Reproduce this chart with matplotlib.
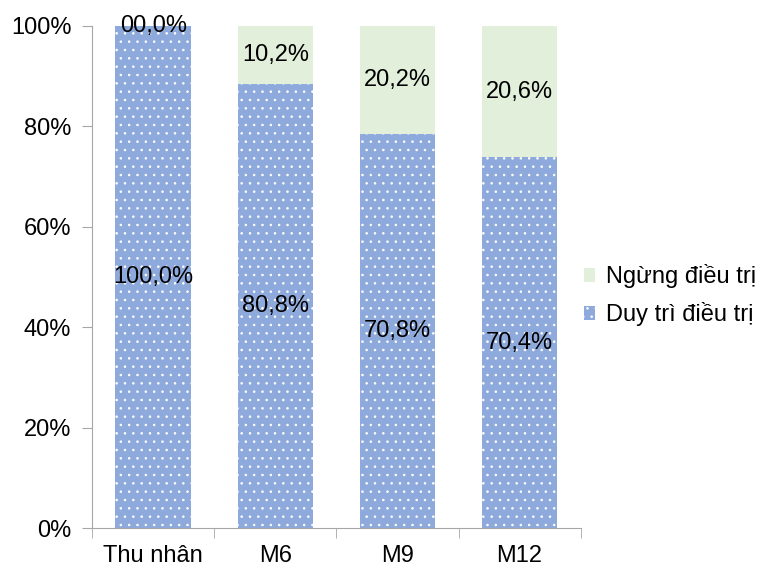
import matplotlib.pyplot as plt
from matplotlib.patches import Patch

plt.rcParams['font.family'] = ['Liberation Sans', 'DejaVu Sans']
plt.rcParams['hatch.linewidth'] = 0.6

categories = ['Thu nhân', 'M6', 'M9', 'M12']
duy_tri = [100.0, 88.4, 78.4, 73.8]          # bar heights (%)
ngung = [0.0, 11.6, 21.6, 26.2]
duy_tri_labels = ['100,0%', '80,8%', '70,8%', '70,4%']
ngung_labels = ['00,0%', '10,2%', '20,2%', '20,6%']

blue = '#8EA9DB'
green = '#E2EFDA'
fs = 17

fig = plt.figure(figsize=(7.62, 5.68), dpi=100)
ax = fig.add_axes([0.121, 0.0704, 0.641, 0.884])

x = range(len(categories))
b1 = ax.bar(x, duy_tri, width=0.62, color=blue, edgecolor='white', linewidth=0, hatch='..')
b2 = ax.bar(x, ngung, width=0.62, bottom=duy_tri, color=green, linewidth=0)

for i in x:
    ax.text(i, duy_tri[i] / 2, duy_tri_labels[i], ha='center', va='center', fontsize=fs)
    ax.text(i, duy_tri[i] + ngung[i] / 2, ngung_labels[i], ha='center', va='center', fontsize=fs)

ax.set_xlim(-0.5, len(categories) - 0.5)
ax.set_ylim(0, 100)
ax.set_yticks(range(0, 101, 20))
ax.set_yticklabels([f'{v}%' for v in range(0, 101, 20)], fontsize=fs)
ax.set_xticks(x)
ax.set_xticklabels(categories, fontsize=fs)
ax.tick_params(axis='x', length=0, pad=12)
ax.set_xticks([i + 0.5 for i in range(-1, len(categories))], minor=True)
ax.tick_params(axis='x', which='minor', length=7, color='#A6A6A6')
ax.tick_params(axis='y', length=7, color='#A6A6A6', pad=8)
for s in ['top', 'right']:
    ax.spines[s].set_visible(False)
for s in ['left', 'bottom']:
    ax.spines[s].set_color('#A6A6A6')

handles = [Patch(facecolor=green, linewidth=0, label='Ngừng điều trị'),
           Patch(facecolor=blue, edgecolor='white', linewidth=0, hatch='..', label='Duy trì điều trị')]
fig.legend(handles=handles, loc='center left', bbox_to_anchor=(0.766, 0.48), frameon=False,
           fontsize=17, handlelength=0.5, handleheight=0.5, handletextpad=0.45,
           labelspacing=0.6, borderpad=0, borderaxespad=0)

fig.savefig('out.png', dpi=100)
